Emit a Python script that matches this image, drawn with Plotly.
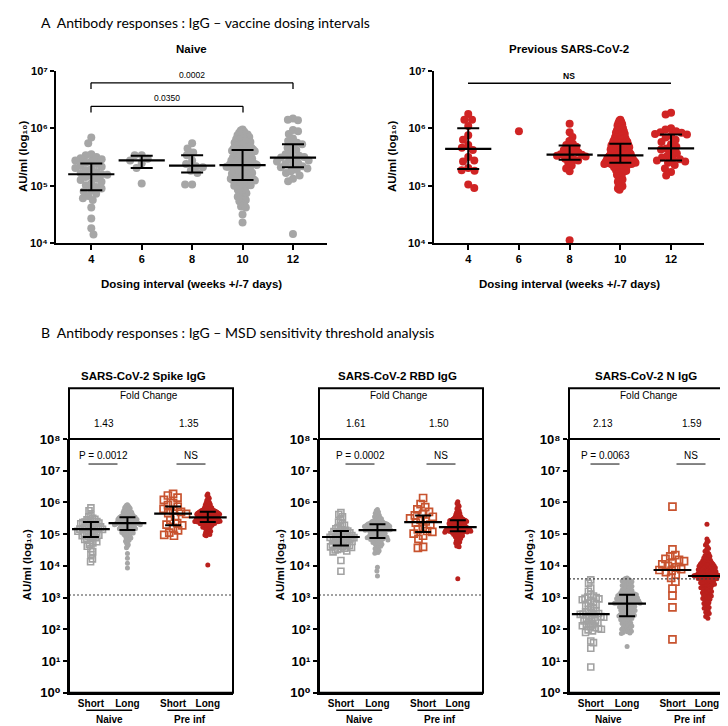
import numpy as np
import plotly.graph_objects as go

# ---------------- DATA (log10 AU/ml) ----------------
# Panel A: dosing intervals (weeks)
a_intervals = [4, 6, 8, 10, 12]

a_naive_4 = [5.84, 5.74, 5.55, 5.53, 5.50, 5.48, 5.46, 5.44, 5.42, 5.40, 5.38, 5.35, 5.33, 5.31, 5.29, 5.27, 5.24,
             5.22, 5.20, 5.19, 5.17, 5.15, 5.12, 5.10, 5.07, 5.04, 5.01, 4.98, 4.95, 4.92, 4.90, 4.86, 4.82, 4.78,
             4.75, 4.62, 4.43, 4.26, 4.15]
a_naive_6 = [5.53, 5.53, 5.47, 5.44, 5.39, 5.31, 5.04]
a_naive_8 = [5.74, 5.65, 5.58, 5.53, 5.44, 5.38, 5.34, 5.32, 5.26, 5.22, 5.02, 5.02]
a_naive_10 = [5.98, 5.96, 5.94, 5.92, 5.90, 5.89, 5.88, 5.86, 5.85, 5.84, 5.82, 5.81, 5.80, 5.78, 5.77, 5.76, 5.75,
              5.74, 5.72, 5.71, 5.70, 5.69, 5.68, 5.67, 5.66, 5.65, 5.64, 5.63, 5.62, 5.61,
              5.60, 5.59, 5.58, 5.57, 5.56, 5.55, 5.54, 5.53, 5.52, 5.51, 5.50, 5.49, 5.48, 5.47, 5.46, 5.45, 5.44,
              5.44, 5.43, 5.42, 5.41, 5.40, 5.40, 5.39, 5.38, 5.38, 5.37, 5.37, 5.36, 5.36,
              5.35, 5.34, 5.33, 5.33, 5.32, 5.31, 5.30, 5.29, 5.28, 5.27, 5.26, 5.25, 5.24, 5.23, 5.22, 5.21, 5.20,
              5.19, 5.18, 5.17, 5.16, 5.15, 5.14, 5.14, 5.13, 5.12, 5.12, 5.11, 5.11, 5.10,
              5.09, 5.08, 5.07, 5.06, 5.05, 5.04, 5.03, 5.02, 5.01, 5.00, 4.98, 4.97, 4.95, 4.93, 4.91, 4.89, 4.87,
              4.85, 4.83, 4.81, 4.79, 4.77, 4.75, 4.73, 4.70, 4.67, 4.64, 4.62, 4.50, 4.36]
a_naive_12 = [6.17, 6.15, 6.14, 5.97, 5.95, 5.90, 5.82, 5.78, 5.75, 5.72, 5.70, 5.66, 5.62, 5.58, 5.55, 5.52, 5.50,
              5.49, 5.48, 5.46, 5.44, 5.42, 5.40, 5.38, 5.36, 5.34, 5.32, 5.30, 5.28, 5.25, 5.22, 5.18, 5.12, 5.08,
              4.16]
a_naive_median = [5.20, 5.44, 5.35, 5.36, 5.49]
a_naive_q1 = [4.92, 5.31, 5.23, 5.10, 5.32]
a_naive_q3 = [5.385, 5.52, 5.53, 5.62, 5.72]

a_prev_4 = [6.25, 6.15, 6.15, 6.04, 5.88, 5.80, 5.71, 5.66, 5.62, 5.50, 5.44, 5.42, 5.31, 5.27, 5.26, 5.02, 4.96]
a_prev_6 = [5.95]
a_prev_8 = [6.08, 5.93, 5.85, 5.78, 5.73, 5.71, 5.68, 5.66, 5.62, 5.60, 5.58, 5.56, 5.55, 5.54, 5.52, 5.51, 5.49,
            5.47, 5.45, 5.44, 5.40, 5.35, 5.30, 5.25, 4.05]
a_prev_10 = [6.15, 6.13, 6.11, 6.09, 6.07, 6.05, 6.03, 6.01, 6.00, 5.98, 5.97, 5.96, 5.95, 5.93, 5.92, 5.91, 5.90,
             5.89, 5.88, 5.87, 5.86, 5.85, 5.84, 5.83, 5.82, 5.81, 5.80, 5.80, 5.79, 5.78, 5.78, 5.77, 5.76, 5.76,
             5.75, 5.74, 5.74,
             5.73, 5.72, 5.72, 5.71, 5.71, 5.70, 5.70, 5.69, 5.68, 5.68, 5.67, 5.67, 5.66, 5.66, 5.65, 5.64, 5.64,
             5.63, 5.63, 5.62, 5.62, 5.61, 5.60, 5.60, 5.59, 5.59, 5.58, 5.58, 5.57, 5.57, 5.56, 5.56, 5.55, 5.55,
             5.54, 5.54, 5.53, 5.53,
             5.53, 5.52, 5.52, 5.51, 5.51, 5.50, 5.50, 5.50, 5.49, 5.49, 5.48, 5.48, 5.47, 5.47, 5.47, 5.46, 5.46,
             5.45, 5.45, 5.45, 5.44, 5.44, 5.44, 5.43, 5.43, 5.43, 5.42, 5.42, 5.42, 5.41, 5.41, 5.41, 5.40, 5.40,
             5.40, 5.40, 5.39, 5.39,
             5.38, 5.38, 5.37, 5.37, 5.36, 5.36, 5.35, 5.35, 5.34, 5.33, 5.33, 5.32, 5.31, 5.30, 5.29, 5.28, 5.27,
             5.26, 5.25, 5.24, 5.23, 5.22, 5.20, 5.19, 5.17, 5.15, 5.13, 5.11, 5.09, 5.07, 5.05, 5.03, 5.01, 4.99,
             4.97, 4.95, 4.93]
a_prev_12 = [6.27, 6.24, 6.00, 5.98, 5.95, 5.93, 5.92, 5.90, 5.89, 5.87, 5.84, 5.80, 5.76, 5.72, 5.68, 5.65, 5.63,
             5.60, 5.56, 5.52, 5.49, 5.47, 5.46, 5.44, 5.42, 5.40, 5.36, 5.30, 5.24, 5.18]
a_prev_median = [5.64, None, 5.54, 5.53, 5.65]
a_prev_q1 = [5.29, None, 5.45, 5.40, 5.44]
a_prev_q3 = [6.00, None, 5.70, 5.73, 5.89]

# Panel B: groups Short/Long x Naive/Pre inf
b_groups = ["Short", "Long", "Short", "Long"]
b_supergroups = ["Naive", "Pre inf"]
b_titles = ["SARS-CoV-2 Spike IgG", "SARS-CoV-2 RBD IgG", "SARS-CoV-2 N IgG"]
b_fold = [["1.43", "1.35"], ["1.61", "1.50"], ["2.13", "1.59"]]
b_pvals = [["P = 0.0012", "NS"], ["P = 0.0002", "NS"], ["P = 0.0063", "NS"]]
b_threshold = [3.08, 3.08, 3.59]

spike_naive_short = [5.83, 5.74, 5.60, 5.55, 5.50, 5.47, 5.45, 5.42, 5.40, 5.38, 5.37, 5.35, 5.33, 5.31, 5.29, 5.27,
                     5.25, 5.23, 5.21, 5.19, 5.18, 5.17, 5.16, 5.16, 5.15, 5.13, 5.11, 5.09, 5.07, 5.05, 5.03, 5.01,
                     4.99, 4.97, 4.95, 4.93, 4.91, 4.89, 4.86, 4.83, 4.80, 4.76, 4.72, 4.68, 4.62, 4.55, 4.45, 4.35,
                     4.22, 4.13]
spike_naive_long = [5.93, 5.91, 5.89, 5.87, 5.85, 5.83, 5.81, 5.79, 5.78, 5.76, 5.75, 5.73, 5.72, 5.70, 5.69, 5.68,
                    5.66, 5.65, 5.64, 5.63, 5.62, 5.61, 5.60, 5.59, 5.58, 5.57, 5.57, 5.56, 5.55, 5.55, 5.54, 5.53,
                    5.53, 5.52, 5.52, 5.51, 5.50, 5.50, 5.49, 5.48, 5.48, 5.47, 5.46, 5.46, 5.45, 5.44, 5.44, 5.43,
                    5.42, 5.42, 5.41, 5.40, 5.40, 5.39, 5.39, 5.38, 5.38, 5.37, 5.37, 5.36, 5.36, 5.35, 5.35, 5.35,
                    5.35, 5.34, 5.34, 5.33, 5.33, 5.32, 5.32, 5.31, 5.31, 5.30, 5.30, 5.29, 5.28, 5.28, 5.27, 5.26,
                    5.26, 5.25, 5.24, 5.24, 5.23, 5.22, 5.21, 5.21, 5.20, 5.19, 5.18, 5.17, 5.17, 5.16, 5.15, 5.14,
                    5.14, 5.13, 5.12, 5.11, 5.10, 5.09, 5.08, 5.07, 5.06, 5.05, 5.04, 5.03, 5.02, 5.00, 4.99, 4.97,
                    4.96, 4.94, 4.92, 4.90, 4.88, 4.86, 4.84, 4.81, 4.78, 4.75, 4.71, 4.67, 4.62, 4.57, 4.39, 4.24,
                    4.08, 3.93]
spike_pre_short = [6.27, 6.22, 6.15, 6.08, 5.98, 5.92, 5.87, 5.80, 5.75, 5.70, 5.66, 5.64, 5.55, 5.45, 5.35, 5.30,
                   5.28, 5.20, 5.12, 5.05, 4.98, 4.95]
spike_pre_long = [6.27, 6.22, 6.17, 6.13, 6.09, 6.06, 6.03, 6.00, 5.98, 5.96, 5.94, 5.92, 5.90, 5.88, 5.87, 5.85,
                  5.84, 5.83, 5.81, 5.80, 5.79, 5.78, 5.77, 5.77, 5.76, 5.75, 5.75, 5.74, 5.74, 5.73, 5.73, 5.72,
                  5.72, 5.71, 5.71, 5.70, 5.70, 5.69, 5.69, 5.68, 5.68, 5.67, 5.67, 5.66, 5.66, 5.65, 5.65, 5.64,
                  5.64, 5.63, 5.63, 5.62, 5.62, 5.61, 5.61, 5.60, 5.60, 5.59, 5.59, 5.58, 5.58, 5.57, 5.57, 5.56,
                  5.56, 5.55, 5.55, 5.54, 5.54, 5.53, 5.53, 5.52, 5.52, 5.51, 5.51, 5.50, 5.50, 5.49, 5.49, 5.48,
                  5.48, 5.47, 5.47, 5.46, 5.46, 5.45, 5.45, 5.44, 5.44, 5.43, 5.43, 5.42, 5.42, 5.42, 5.41, 5.41,
                  5.41, 5.40, 5.40, 5.40, 5.39, 5.39, 5.39, 5.38, 5.38, 5.37, 5.37, 5.36, 5.36, 5.35, 5.34, 5.34,
                  5.33, 5.32, 5.31, 5.30, 5.29, 5.28, 5.27, 5.26, 5.25, 5.24, 5.22, 5.21, 5.19, 5.17, 5.15, 5.13,
                  5.11, 5.09, 5.07, 5.05, 5.03, 5.01, 4.99, 4.97, 4.95, 4.03]
spike_median = [5.16, 5.35, 5.65, 5.53]
spike_q1 = [4.91, 5.13, 5.28, 5.38]
spike_q3 = [5.38, 5.53, 5.87, 5.71]

rbd_naive_short = [5.68, 5.62, 5.55, 5.45, 5.38, 5.33, 5.28, 5.24, 5.20, 5.17, 5.14, 5.12, 5.10, 5.08, 5.06, 5.04,
                   5.02, 5.00, 4.98, 4.96, 4.94, 4.93, 4.92, 4.91, 4.90, 4.89, 4.87, 4.85, 4.83, 4.81, 4.79, 4.77,
                   4.75, 4.73, 4.71, 4.69, 4.67, 4.65, 4.64, 4.62, 4.60, 4.58, 4.56, 4.54, 4.52, 4.50, 4.47, 4.44,
                   4.17, 3.83]
rbd_naive_long = [5.78, 5.74, 5.70, 5.66, 5.63, 5.60, 5.57, 5.55, 5.53, 5.51, 5.49, 5.47, 5.45, 5.44, 5.42, 5.41,
                  5.40, 5.39, 5.38, 5.37, 5.36, 5.35, 5.35, 5.34, 5.33, 5.33, 5.32, 5.32, 5.31, 5.31, 5.30, 5.30,
                  5.29, 5.28, 5.28, 5.27, 5.26, 5.26, 5.25, 5.24, 5.24, 5.23, 5.22, 5.22, 5.21, 5.20, 5.20, 5.19,
                  5.18, 5.18, 5.17, 5.17, 5.16, 5.16, 5.15, 5.15, 5.14, 5.14, 5.13, 5.13, 5.12, 5.11, 5.11, 5.10,
                  5.09, 5.08, 5.07, 5.06, 5.05, 5.04, 5.03, 5.02, 5.01, 5.00, 4.99, 4.98, 4.97, 4.96, 4.95, 4.94,
                  4.93, 4.92, 4.92, 4.91, 4.91, 4.90, 4.90, 4.89, 4.89, 4.88, 4.87, 4.86, 4.85, 4.84, 4.83, 4.82,
                  4.81, 4.80, 4.78, 4.77, 4.75, 4.74, 4.72, 4.70, 4.68, 4.66, 4.64, 4.62, 4.60, 4.57, 4.54, 4.51,
                  4.48, 4.45, 4.42, 4.40, 3.96, 3.84, 3.68]
rbd_pre_short = [6.14, 5.95, 5.85, 5.78, 5.70, 5.64, 5.59, 5.55, 5.50, 5.45, 5.40, 5.36, 5.30, 5.22, 5.15, 5.10,
                 5.07, 5.02, 4.95, 4.85, 4.60, 4.57]
rbd_pre_long = [6.02, 5.97, 5.92, 5.88, 5.84, 5.80, 5.77, 5.74, 5.71, 5.68, 5.66, 5.64, 5.62, 5.60, 5.58, 5.57,
                5.55, 5.54, 5.53, 5.52, 5.51, 5.50, 5.49, 5.49, 5.48, 5.47, 5.47, 5.46, 5.46, 5.45, 5.45, 5.44,
                5.44, 5.44, 5.43, 5.43, 5.42, 5.42, 5.41, 5.40, 5.40, 5.39, 5.38, 5.38, 5.37, 5.36, 5.36, 5.35,
                5.34, 5.34, 5.33, 5.32, 5.32, 5.31, 5.30, 5.30, 5.29, 5.28, 5.28, 5.27, 5.26, 5.26, 5.25, 5.25,
                5.24, 5.24, 5.23, 5.23, 5.22, 5.22, 5.21, 5.21, 5.21, 5.20, 5.20, 5.19, 5.19, 5.18, 5.18, 5.17,
                5.17, 5.16, 5.16, 5.16, 5.15, 5.15, 5.14, 5.14, 5.14, 5.13, 5.13, 5.13, 5.12, 5.12, 5.12, 5.11,
                5.11, 5.11, 5.10, 5.10, 5.10, 5.09, 5.09, 5.09, 5.08, 5.08, 5.07, 5.07, 5.06, 5.05, 5.05, 5.04,
                5.03, 5.02, 5.01, 5.00, 4.99, 4.98, 4.97, 4.96, 4.95, 4.93, 4.92, 4.90, 4.88, 4.86, 4.84, 4.82,
                4.80, 4.78, 4.75, 4.72, 4.69, 4.66, 4.63, 4.60, 3.59]
rbd_median = [4.91, 5.13, 5.38, 5.22]
rbd_q1 = [4.64, 4.88, 5.07, 5.09]
rbd_q3 = [5.10, 5.31, 5.59, 5.44]

n_naive_short = [3.56, 3.45, 3.30, 3.20, 3.10, 3.05, 3.02, 3.00, 2.98, 2.96, 2.93, 2.90, 2.86, 2.82, 2.78, 2.74,
                 2.70, 2.66, 2.62, 2.58, 2.55, 2.52, 2.50, 2.48, 2.47, 2.45, 2.43, 2.40, 2.38, 2.35, 2.32, 2.29,
                 2.26, 2.23, 2.20, 2.17, 2.14, 2.11, 2.08, 2.05, 2.02, 2.00, 1.98, 1.95, 1.90, 1.63, 1.58, 1.40,
                 0.81]
n_naive_long = [3.62, 3.60, 3.58, 3.56, 3.54, 3.52, 3.50, 3.48, 3.46, 3.44, 3.42, 3.40, 3.38, 3.36, 3.34, 3.32,
                3.30, 3.28, 3.26, 3.24, 3.22, 3.20, 3.18, 3.17, 3.16, 3.14, 3.13, 3.12, 3.11, 3.10, 3.09, 3.08,
                3.07, 3.06, 3.05, 3.04, 3.03, 3.02, 3.01, 3.00, 2.99, 2.98, 2.97, 2.96, 2.95, 2.94, 2.93, 2.92,
                2.91, 2.90, 2.89, 2.88, 2.87, 2.86, 2.85, 2.84, 2.83, 2.83, 2.82, 2.82, 2.80, 2.79, 2.78, 2.77,
                2.76, 2.75, 2.73, 2.72, 2.71, 2.70, 2.68, 2.67, 2.66, 2.64, 2.63, 2.62, 2.60, 2.59, 2.57, 2.56,
                2.54, 2.53, 2.51, 2.50, 2.48, 2.47, 2.45, 2.44, 2.43, 2.42, 2.40, 2.39, 2.37, 2.36, 2.34, 2.32,
                2.30, 2.28, 2.26, 2.24, 2.22, 2.20, 2.18, 2.16, 2.14, 2.12, 2.10, 2.08, 2.06, 2.04, 2.02, 2.00,
                1.98, 1.96, 1.94, 1.92, 1.90, 1.88, 1.87, 1.46]
n_pre_short = [5.87, 4.52, 4.34, 4.30, 4.22, 4.19, 4.15, 4.10, 4.05, 4.00, 3.95, 3.90, 3.87, 3.85, 3.80, 3.72, 3.62,
               3.50, 3.28, 3.06, 2.69, 1.68]
n_pre_long = [5.31, 4.85, 4.78, 4.72, 4.66, 4.60, 4.55, 4.50, 4.46, 4.42, 4.38, 4.35, 4.32, 4.30, 4.27, 4.25, 4.22,
              4.20, 4.18, 4.16, 4.14, 4.12, 4.11, 4.10, 4.08, 4.07, 4.06, 4.05, 4.04, 4.03, 4.02, 4.01, 4.00, 3.99,
              3.98, 3.97, 3.96, 3.95, 3.94, 3.93, 3.92, 3.91, 3.90, 3.89, 3.88, 3.87, 3.86, 3.85, 3.84, 3.83, 3.82,
              3.81, 3.80, 3.79, 3.78, 3.77, 3.76, 3.75, 3.75, 3.74, 3.73, 3.73, 3.72, 3.71, 3.71, 3.70, 3.70, 3.69,
              3.69, 3.68, 3.67, 3.66, 3.66, 3.65, 3.64, 3.63, 3.62, 3.61, 3.60, 3.59, 3.58, 3.57, 3.56, 3.55, 3.54,
              3.52, 3.51, 3.50, 3.48, 3.47, 3.46, 3.44, 3.43, 3.42, 3.40, 3.39, 3.37, 3.36, 3.34, 3.33, 3.31, 3.30,
              3.28, 3.26, 3.25, 3.23, 3.21, 3.19, 3.17, 3.15, 3.13, 3.11, 3.09, 3.07, 3.05, 3.03, 3.01, 2.99, 2.97,
              2.95, 2.92, 2.90, 2.87, 2.84, 2.81, 2.78, 2.75, 2.72, 2.69, 2.66, 2.62, 2.58, 2.54, 2.50, 2.45, 2.40,
              2.35]
n_median = [2.48, 2.81, 3.87, 3.68]
n_q1 = [None, 2.41, None, None]
n_q3 = [None, 3.09, None, None]

# ---------------- LAYOUT CONSTANTS (pixels) ----------------
W, H = 728, 726
ARIAL = "Liberation Sans, Arial, DejaVu Sans, sans-serif"
TITLE_FONT = "Lato, Open Sans, sans-serif"
SUP = str.maketrans("0123456789", "⁰¹²³⁴⁵⁶⁷⁸⁹")
YLABEL = "AU/ml (log₁₀)"

GRAY = "#A6A6A6"
RED_A = "#D02424"
GRAY_SQ = "#A2A2A2"
ORANGE_SQ = "#C8532F"
RED_B = "#BA201D"


def PX(x):
    return x / W


def PY(y):
    return 1 - y / H


A_TOP, A_BOT = 57, 233
A_AX = [(48, 319, [2.6, 13.35]), (426, 696, [2.65, 13.3])]
B_TOP, B_BOT, B_BOX = 433, 692, 381
B_AX = [(61, 225), (311, 475), (561, 724)]
B_RANGE = [0.4, 4.89]
B_POS = [1, 2, 3.25, 4.2]


def swarm_offsets(logv, px_per_decade, px_per_unit, d, max_half):
    ys = np.asarray(logv, float) * px_per_decade
    n = len(ys)
    order = np.argsort(-ys, kind="stable")
    pxs, pys = [], []
    offs = np.zeros(n)
    for k, i in enumerate(order):
        y = ys[i]
        near = [(qx, qy) for qx, qy in zip(pxs, pys) if abs(qy - y) < d]
        cands = [0.0]
        for qx, qy in near:
            dx = np.sqrt(max(d * d - (y - qy) ** 2, 0.0))
            cands += [qx + dx + 1e-6, qx - dx - 1e-6]
        sgn = 1 if k % 2 else -1
        cands = sorted(set(cands), key=lambda c: (round(abs(c), 6), sgn * c))
        chosen = cands[-1]
        for c in cands:
            if all((c - qx) ** 2 + (y - qy) ** 2 >= d * d - 1e-3 for qx, qy in near):
                chosen = c
                break
        pxs.append(chosen)
        pys.append(y)
        offs[i] = chosen
    m = np.max(np.abs(offs)) if n else 0
    if m > max_half:
        offs *= max_half / m
    return offs / px_per_unit


fig = go.Figure()


def add_points(xa, ya, pos, logs, pxdec, pxunit, d, maxhalf, marker):
    offs = swarm_offsets(logs, pxdec, pxunit, d, maxhalf)
    fig.add_trace(go.Scatter(x=pos + offs, y=10 ** np.asarray(logs, float), mode="markers",
                             marker=marker, xaxis=xa, yaxis=ya, showlegend=False,
                             hoverinfo="skip", cliponaxis=False))


def add_bar(xa, ya, pos, med, q1, q3, medw, capw):
    if med is None:
        return
    m = 10 ** med
    tr = dict(x=[pos], y=[m], mode="markers", xaxis=xa, yaxis=ya, showlegend=False, hoverinfo="skip",
              cliponaxis=False,
              marker=dict(symbol="line-ew", size=medw, color="black", line=dict(width=2.2, color="black")))
    if q1 is not None:
        tr["error_y"] = dict(type="data", symmetric=False, array=[10 ** q3 - m], arrayminus=[m - 10 ** q1],
                             color="black", thickness=2, width=capw)
    fig.add_trace(go.Scatter(**tr))


# ---------------- Panel A ----------------
A_PXDEC = (A_BOT - A_TOP) / 3.0
a_sets = [
    ([a_naive_4, a_naive_6, a_naive_8, a_naive_10, a_naive_12], a_naive_median, a_naive_q1, a_naive_q3, GRAY),
    ([a_prev_4, a_prev_6, a_prev_8, a_prev_10, a_prev_12], a_prev_median, a_prev_q1, a_prev_q3, RED_A),
]
for j, (groups, med, q1, q3, col) in enumerate(a_sets):
    xa = "x" if j == 0 else "x2"
    ya = "y" if j == 0 else "y2"
    x0, x1, rng = A_AX[j]
    pxunit = (x1 - x0) / (rng[1] - rng[0])
    for g, vals in enumerate(groups):
        add_points(xa, ya, a_intervals[g], vals, A_PXDEC, pxunit, 7.0, 16,
                   dict(size=8, color=col, line=dict(width=0)))
    for g in range(len(groups)):
        add_bar(xa, ya, a_intervals[g], med[g], q1[g], q3[g], 33, 11)

# ---------------- Panel B ----------------
B_PXDEC = (B_BOT - B_TOP) / 8.0
b_sets = [
    ([spike_naive_short, spike_naive_long, spike_pre_short, spike_pre_long], spike_median, spike_q1, spike_q3),
    ([rbd_naive_short, rbd_naive_long, rbd_pre_short, rbd_pre_long], rbd_median, rbd_q1, rbd_q3),
    ([n_naive_short, n_naive_long, n_pre_short, n_pre_long], n_median, n_q1, n_q3),
]
b_markers = [
    dict(symbol="square-open", size=6, color=GRAY_SQ, line=dict(width=1.6, color=GRAY_SQ)),
    dict(symbol="circle", size=5, color=GRAY, line=dict(width=0)),
    dict(symbol="square-open", size=7, color=ORANGE_SQ, line=dict(width=1.7, color=ORANGE_SQ)),
    dict(symbol="circle", size=5, color=RED_B, line=dict(width=0)),
]
b_swarm_d = [6.0, 4.3, 7.0, 4.3]
for s, (groups, med, q1, q3) in enumerate(b_sets):
    xa = "x%d" % (s + 3)
    ya = "y%d" % (s + 3)
    x0, x1 = B_AX[s]
    pxunit = (x1 - x0) / (B_RANGE[1] - B_RANGE[0])
    for g, vals in enumerate(groups):
        add_points(xa, ya, B_POS[g], vals, B_PXDEC, pxunit, b_swarm_d[g], 13, b_markers[g])
    # threshold dotted line
    fig.add_trace(go.Scatter(x=B_RANGE, y=[10 ** b_threshold[s]] * 2, mode="lines", xaxis=xa, yaxis=ya,
                             line=dict(color="#444444", width=1.1, dash="2px,2px"), showlegend=False,
                             hoverinfo="skip"))
    for g in range(4):
        add_bar(xa, ya, B_POS[g], med[g], q1[g], q3[g], 27, 8)

# ---------------- Axes ----------------
def log_ticks(lo, hi):
    return [10 ** k for k in range(lo, hi + 1)], ["10" + str(k).translate(SUP) for k in range(lo, hi + 1)]


BOLD = dict(family=ARIAL, color="black", weight="bold")

layout_axes = {}
tv, tt = log_ticks(4, 7)
for j in range(2):
    x0, x1, rng = A_AX[j]
    xn = "xaxis" if j == 0 else "xaxis2"
    yn = "yaxis" if j == 0 else "yaxis2"
    layout_axes[xn] = dict(domain=[PX(x0), PX(x1)], range=rng, anchor="y" if j == 0 else "y2",
                           tickvals=a_intervals, ticktext=[str(v) for v in a_intervals],
                           ticks="outside", ticklen=5, tickwidth=2, tickcolor="black",
                           showline=True, linewidth=2, linecolor="black", showgrid=False, zeroline=False,
                           tickfont=dict(BOLD, size=11))
    layout_axes[yn] = dict(domain=[PY(A_BOT), PY(A_TOP)], type="log", range=[4, 7],
                           anchor="x" if j == 0 else "x2",
                           tickvals=tv, ticktext=tt, ticks="outside", ticklen=4, tickwidth=2, tickcolor="black",
                           showline=True, linewidth=2, linecolor="black", showgrid=False, zeroline=False,
                           tickfont=dict(BOLD, size=11))

tvb, ttb = log_ticks(0, 8)
for s in range(3):
    x0, x1 = B_AX[s]
    layout_axes["xaxis%d" % (s + 3)] = dict(domain=[PX(x0), PX(x1)], range=B_RANGE, anchor="y%d" % (s + 3),
                                            tickvals=B_POS, ticktext=b_groups,
                                            ticks="", showline=True, linewidth=2, linecolor="black",
                                            showgrid=False, zeroline=False,
                                            tickfont=dict(BOLD, size=10))
    layout_axes["yaxis%d" % (s + 3)] = dict(domain=[PY(B_BOT), PY(B_TOP)], type="log", range=[0, 8],
                                            anchor="x%d" % (s + 3), tickvals=tvb, ticktext=ttb,
                                            ticks="outside", ticklen=4, tickwidth=2, tickcolor="black",
                                            showline=True, linewidth=2, linecolor="black", showgrid=False,
                                            zeroline=False,
                                            tickfont=dict(BOLD, size=13))

# ---------------- Annotations & shapes ----------------
anns = []
shapes = []


def text(t, x, y, size, family=ARIAL, xanchor="center", angle=0, bold=False):
    f = dict(family=family, size=size, color="black")
    if bold:
        f["weight"] = "bold"
    anns.append(dict(text=t, x=PX(x), y=PY(y), xref="paper", yref="paper", showarrow=False,
                     xanchor=xanchor, yanchor="middle", textangle=angle, font=f))


def line(x0, y0, x1, y1, w=1.5, color="black"):
    shapes.append(dict(type="line", xref="paper", yref="paper", x0=PX(x0), y0=PY(y0), x1=PX(x1), y1=PY(y1),
                       line=dict(color=color, width=w)))


# Panel A texts
text("A  Antibody responses : IgG – vaccine dosing intervals", 31, 8, 14, family=TITLE_FONT, xanchor="left")
text("Naive", 183.5, 35, 11.5, bold=True)
text("Previous SARS-CoV-2", 561, 35, 11.5, bold=True)
for cx in (183.5, 561):
    text("Dosing interval (weeks +/-7 days)", cx, 275, 11.5, bold=True)
for cx in (15, 384):
    text(YLABEL, cx, 145, 11.5, angle=-90, bold=True)

# brackets
line(83, 69.3, 285, 69.3, 1.3)
line(83, 69.3, 83, 75.5, 1.3)
line(285, 69.3, 285, 75.5, 1.3)
text("0.0002", 184, 61, 8.5)
line(83, 93.3, 235, 93.3, 1.3)
line(83, 93.3, 83, 99.5, 1.3)
line(235, 93.3, 235, 99.5, 1.3)
text("0.0350", 159, 85, 8.5)
line(460, 69.7, 663, 69.7, 1.6)
text("NS", 561, 62, 8.5, bold=True)

# Panel B texts
text("B  Antibody responses : IgG – MSD sensitivity threshold analysis", 31, 324, 14, family=TITLE_FONT,
     xanchor="left")
b_title_x = [135, 389, 638]
b_fold_x = [(96, 181), (348, 431), (595, 684)]
b_p_x = [(95, 183), (352, 433), (597, 683)]
b_ylab_x = [19, 272, 521]
for s in range(3):
    x0, x1 = B_AX[s]
    pxunit = (x1 - x0) / (B_RANGE[1] - B_RANGE[0])
    catpx = [x0 + (p - B_RANGE[0]) * pxunit for p in B_POS]
    shapes.append(dict(type="rect", xref="paper", yref="paper", x0=PX(x0), x1=PX(x1), y0=PY(B_BOT),
                       y1=PY(B_BOX), line=dict(color="black", width=2)))
    line(x0, B_TOP, x1, B_TOP, 2)
    text(b_titles[s], b_title_x[s], 369, 11.5, bold=True)
    text("Fold Change", (x0 + x1) / 2 - 2, 389, 10)
    for k in range(2):
        text(b_fold[s][k], b_fold_x[s][k], 417, 10)
        text(b_pvals[s][k], b_p_x[s][k], 450, 10)
        line(b_p_x[s][k] - 14.5, 458.5, b_p_x[s][k] + 14.5, 458.5, 1.2, color="#333333")
    text(YLABEL, b_ylab_x[s], 562, 11.5, angle=-90, bold=True)
    for k in range(2):
        ca, cb = catpx[2 * k], catpx[2 * k + 1]
        mid = (ca + cb) / 2
        line(mid - 23, 710, mid + 23, 710, 1.5)
        text(b_supergroups[k], mid, 719, 10, bold=True)

fig.update_layout(width=W, height=H, margin=dict(l=0, r=0, t=0, b=0), autosize=False,
                  paper_bgcolor="white", plot_bgcolor="white", showlegend=False,
                  annotations=anns, shapes=shapes, **layout_axes)

fig.write_html("out.html")
